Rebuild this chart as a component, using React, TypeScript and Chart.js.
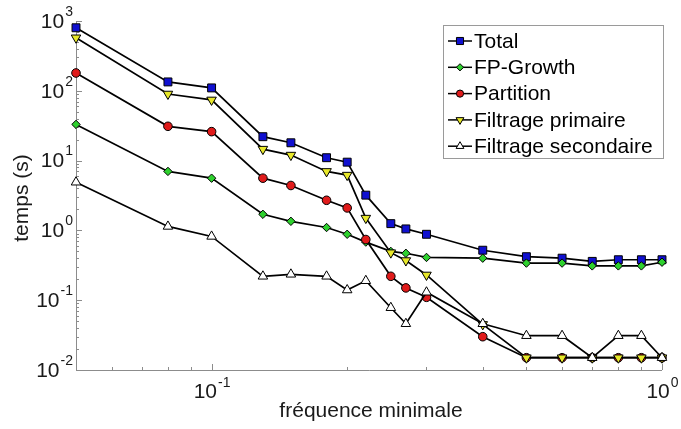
import React, { useEffect, useRef } from 'react';
import { Chart, registerables } from 'chart.js';

Chart.register(...registerables);

const freq = [0.05, 0.08, 0.1, 0.13, 0.15, 0.18, 0.2, 0.22, 0.25, 0.27, 0.3, 0.4, 0.5, 0.6, 0.7, 0.8, 0.9, 1.0];
const total = [800, 134, 110, 22, 18, 11, 9.5, 3.2, 1.25, 1.05, 0.88, 0.52, 0.42, 0.4, 0.36, 0.38, 0.38, 0.38];
const fpGrowth = [33, 7, 5.6, 1.7, 1.35, 1.1, 0.88, 0.68, 0.5, 0.47, 0.41, 0.4, 0.34, 0.34, 0.31, 0.31, 0.31, 0.35];
const partition = [180, 31, 26, 5.6, 4.4, 2.7, 2.1, 0.74, 0.22, 0.15, 0.11, 0.03, 0.015, 0.015, 0.015, 0.015, 0.015, 0.015];
const primaire = [575, 90, 74, 14.6, 12, 7, 6.2, 1.5, 0.48, 0.37, 0.23, 0.045, 0.015, 0.015, 0.015, 0.015, 0.015, 0.015];
const secondaire = [4.9, 1.14, 0.82, 0.22, 0.235, 0.22, 0.14, 0.19, 0.078, 0.046, 0.13, 0.046, 0.031, 0.031, 0.015, 0.031, 0.031, 0.015];

const seriesNames = ['Total', 'FP-Growth', 'Partition', 'Filtrage primaire', 'Filtrage secondaire'];
const yTickValues = [0.01, 0.1, 1, 10, 100, 1000];
const yTickExponents = ['-2', '-1', '0', '1', '2', '3'];
const xTickValues = [0.1, 1];
const xTickExponents = ['-1', '0'];
const xTitle = 'fréquence minimale';
const yTitle = 'temps (s)';

const FONT = '"Liberation Sans", Arial, Helvetica, sans-serif';

type Style = { fill: string; shape: string; radius: number; rotation: number };
const styles: Style[] = [
  { fill: '#1010d0', shape: 'rect', radius: 5.6, rotation: 0 },
  { fill: '#2ed12e', shape: 'rectRot', radius: 4.2, rotation: 0 },
  { fill: '#e01b1b', shape: 'circle', radius: 4.3, rotation: 0 },
  { fill: '#e8e82a', shape: 'triangle', radius: 5.5, rotation: 180 },
  { fill: '#ffffff', shape: 'triangle', radius: 5.5, rotation: 0 },
];

function drawMarker(ctx: CanvasRenderingContext2D, s: Style, x: number, y: number, r: number) {
  ctx.save();
  ctx.fillStyle = s.fill;
  ctx.strokeStyle = '#000';
  ctx.lineWidth = 1;
  ctx.beginPath();
  if (s.shape === 'rect') {
    const h = r * Math.SQRT1_2;
    ctx.rect(x - h, y - h, 2 * h, 2 * h);
  } else if (s.shape === 'rectRot') {
    ctx.moveTo(x, y - r);
    ctx.lineTo(x + r, y);
    ctx.lineTo(x, y + r);
    ctx.lineTo(x - r, y);
    ctx.closePath();
  } else if (s.shape === 'circle') {
    ctx.arc(x, y, r, 0, Math.PI * 2);
  } else {
    const dir = s.rotation === 180 ? -1 : 1;
    ctx.moveTo(x, y - dir * r);
    ctx.lineTo(x + r * 0.866, y + dir * r * 0.5);
    ctx.lineTo(x - r * 0.866, y + dir * r * 0.5);
    ctx.closePath();
  }
  ctx.fill();
  ctx.stroke();
  ctx.restore();
}

const axesPlugin = {
  id: 'axesPlugin',
  beforeDatasetsDraw(chart: any) {
    const ctx: CanvasRenderingContext2D = chart.ctx;
    const { left, right, top, bottom } = chart.chartArea;
    const xs = chart.scales.x;
    const ys = chart.scales.y;
    ctx.save();
    ctx.strokeStyle = '#8c8c8c';
    ctx.lineWidth = 1;
    ctx.beginPath();
    ctx.moveTo(left + 0.5, top);
    ctx.lineTo(left + 0.5, bottom + 0.5);
    ctx.lineTo(right, bottom + 0.5);
    ctx.stroke();
    ctx.beginPath();
    for (let e = -2; e <= 3; e++) {
      for (let m = 1; m <= 9; m++) {
        const v = m * Math.pow(10, e);
        if (v > 1000.0001) continue;
        const py = Math.round(ys.getPixelForValue(v)) + 0.5;
        const len = m === 1 ? 6 : 3;
        ctx.moveTo(left, py);
        ctx.lineTo(left + len, py);
      }
    }
    for (let e = -2; e <= 0; e++) {
      for (let m = 1; m <= 9; m++) {
        const v = m * Math.pow(10, e);
        if (v < 0.05 - 1e-9 || v > 1.0001) continue;
        const px = Math.round(xs.getPixelForValue(v)) + 0.5;
        const len = m === 1 ? 6 : 3;
        ctx.moveTo(px, bottom);
        ctx.lineTo(px, bottom - len);
      }
    }
    ctx.stroke();
    ctx.restore();
  },
  afterDraw(chart: any) {
    const ctx: CanvasRenderingContext2D = chart.ctx;
    const { left, right, bottom } = chart.chartArea;
    const xs = chart.scales.x;
    const ys = chart.scales.y;
    ctx.save();
    ctx.fillStyle = '#1a1a1a';
    ctx.textBaseline = 'middle';
    yTickValues.forEach((v, i) => {
      const py = ys.getPixelForValue(v);
      ctx.font = `21px ${FONT}`;
      const w10 = ctx.measureText('10').width;
      ctx.font = `14px ${FONT}`;
      const we = ctx.measureText(yTickExponents[i]).width;
      const x0 = 72 - we - w10;
      ctx.font = `21px ${FONT}`;
      ctx.textAlign = 'left';
      ctx.fillText('10', x0, py + 1);
      ctx.font = `14px ${FONT}`;
      ctx.fillText(yTickExponents[i], x0 + w10 + 1, py - 9);
    });
    xTickValues.forEach((v, i) => {
      const px = xs.getPixelForValue(v);
      ctx.font = `21px ${FONT}`;
      const w10 = ctx.measureText('10').width;
      ctx.font = `14px ${FONT}`;
      const we = ctx.measureText(xTickExponents[i]).width;
      const x0 = px - (w10 + we) / 2;
      ctx.font = `21px ${FONT}`;
      ctx.textAlign = 'left';
      ctx.fillText('10', x0, bottom + 22);
      ctx.font = `14px ${FONT}`;
      ctx.fillText(xTickExponents[i], x0 + w10 + 1, bottom + 13);
    });
    ctx.font = `21px ${FONT}`;
    ctx.textAlign = 'center';
    ctx.fillText(xTitle, (left + right) / 2 + 2, 411);
    ctx.save();
    ctx.translate(22, 198);
    ctx.rotate(-Math.PI / 2);
    ctx.fillText(yTitle, 0, 0);
    ctx.restore();

    const bx = 443.5, by = 25.5, bw = 220, bh = 133;
    ctx.fillStyle = '#fff';
    ctx.fillRect(bx, by, bw, bh);
    ctx.strokeStyle = '#9a9a9a';
    ctx.lineWidth = 1;
    ctx.strokeRect(bx, by, bw, bh);
    seriesNames.forEach((name, i) => {
      const cy = 41 + i * 26.3;
      ctx.strokeStyle = '#000';
      ctx.lineWidth = 1.5;
      ctx.beginPath();
      ctx.moveTo(448, cy);
      ctx.lineTo(472, cy);
      ctx.stroke();
      const s = styles[i];
      drawMarker(ctx, s, 460, cy, s.shape === 'rect' ? 5 : s.shape === 'triangle' ? 4.5 : 3.6);
      ctx.fillStyle = '#000';
      ctx.font = `21px ${FONT}`;
      ctx.textAlign = 'left';
      ctx.textBaseline = 'middle';
      ctx.fillText(name, 474, cy + 1);
    });
    ctx.restore();
  },
};

export default function App() {
  const ref = useRef<HTMLCanvasElement>(null);
  useEffect(() => {
    document.body.style.margin = '0';
    const allSeries = [total, fpGrowth, partition, primaire, secondaire];
    const datasets = allSeries.map((vals, i) => ({
      label: seriesNames[i],
      data: freq.map((f, j) => ({ x: f, y: vals[j] })),
      borderColor: '#000',
      borderWidth: 1.7,
      backgroundColor: styles[i].fill,
      pointBackgroundColor: styles[i].fill,
      pointBorderColor: '#000',
      pointBorderWidth: 1,
      pointStyle: styles[i].shape as any,
      pointRadius: styles[i].radius,
      pointRotation: styles[i].rotation,
      tension: 0,
      fill: false,
      clip: false as any,
      order: 5 - i,
    }));
    const chart = new Chart(ref.current!, {
      type: 'line',
      data: { datasets },
      plugins: [axesPlugin],
      options: {
        responsive: false,
        animation: false,
        devicePixelRatio: 1,
        layout: { padding: { top: 21, right: 19, left: 0, bottom: 0 } },
        plugins: { legend: { display: false }, tooltip: { enabled: false } },
        scales: {
          x: {
            type: 'logarithmic',
            min: 0.05,
            max: 1,
            grid: { display: false },
            border: { display: false },
            ticks: { display: false },
            afterFit: (s: any) => { s.height = 59; },
          },
          y: {
            type: 'logarithmic',
            min: 0.01,
            max: 1000,
            grid: { display: false },
            border: { display: false },
            ticks: { display: false },
            afterFit: (s: any) => { s.width = 76; },
          },
        },
      },
    });
    return () => chart.destroy();
  }, []);
  return <canvas ref={ref} width={681} height={429} style={{ display: 'block' }} />;
}
